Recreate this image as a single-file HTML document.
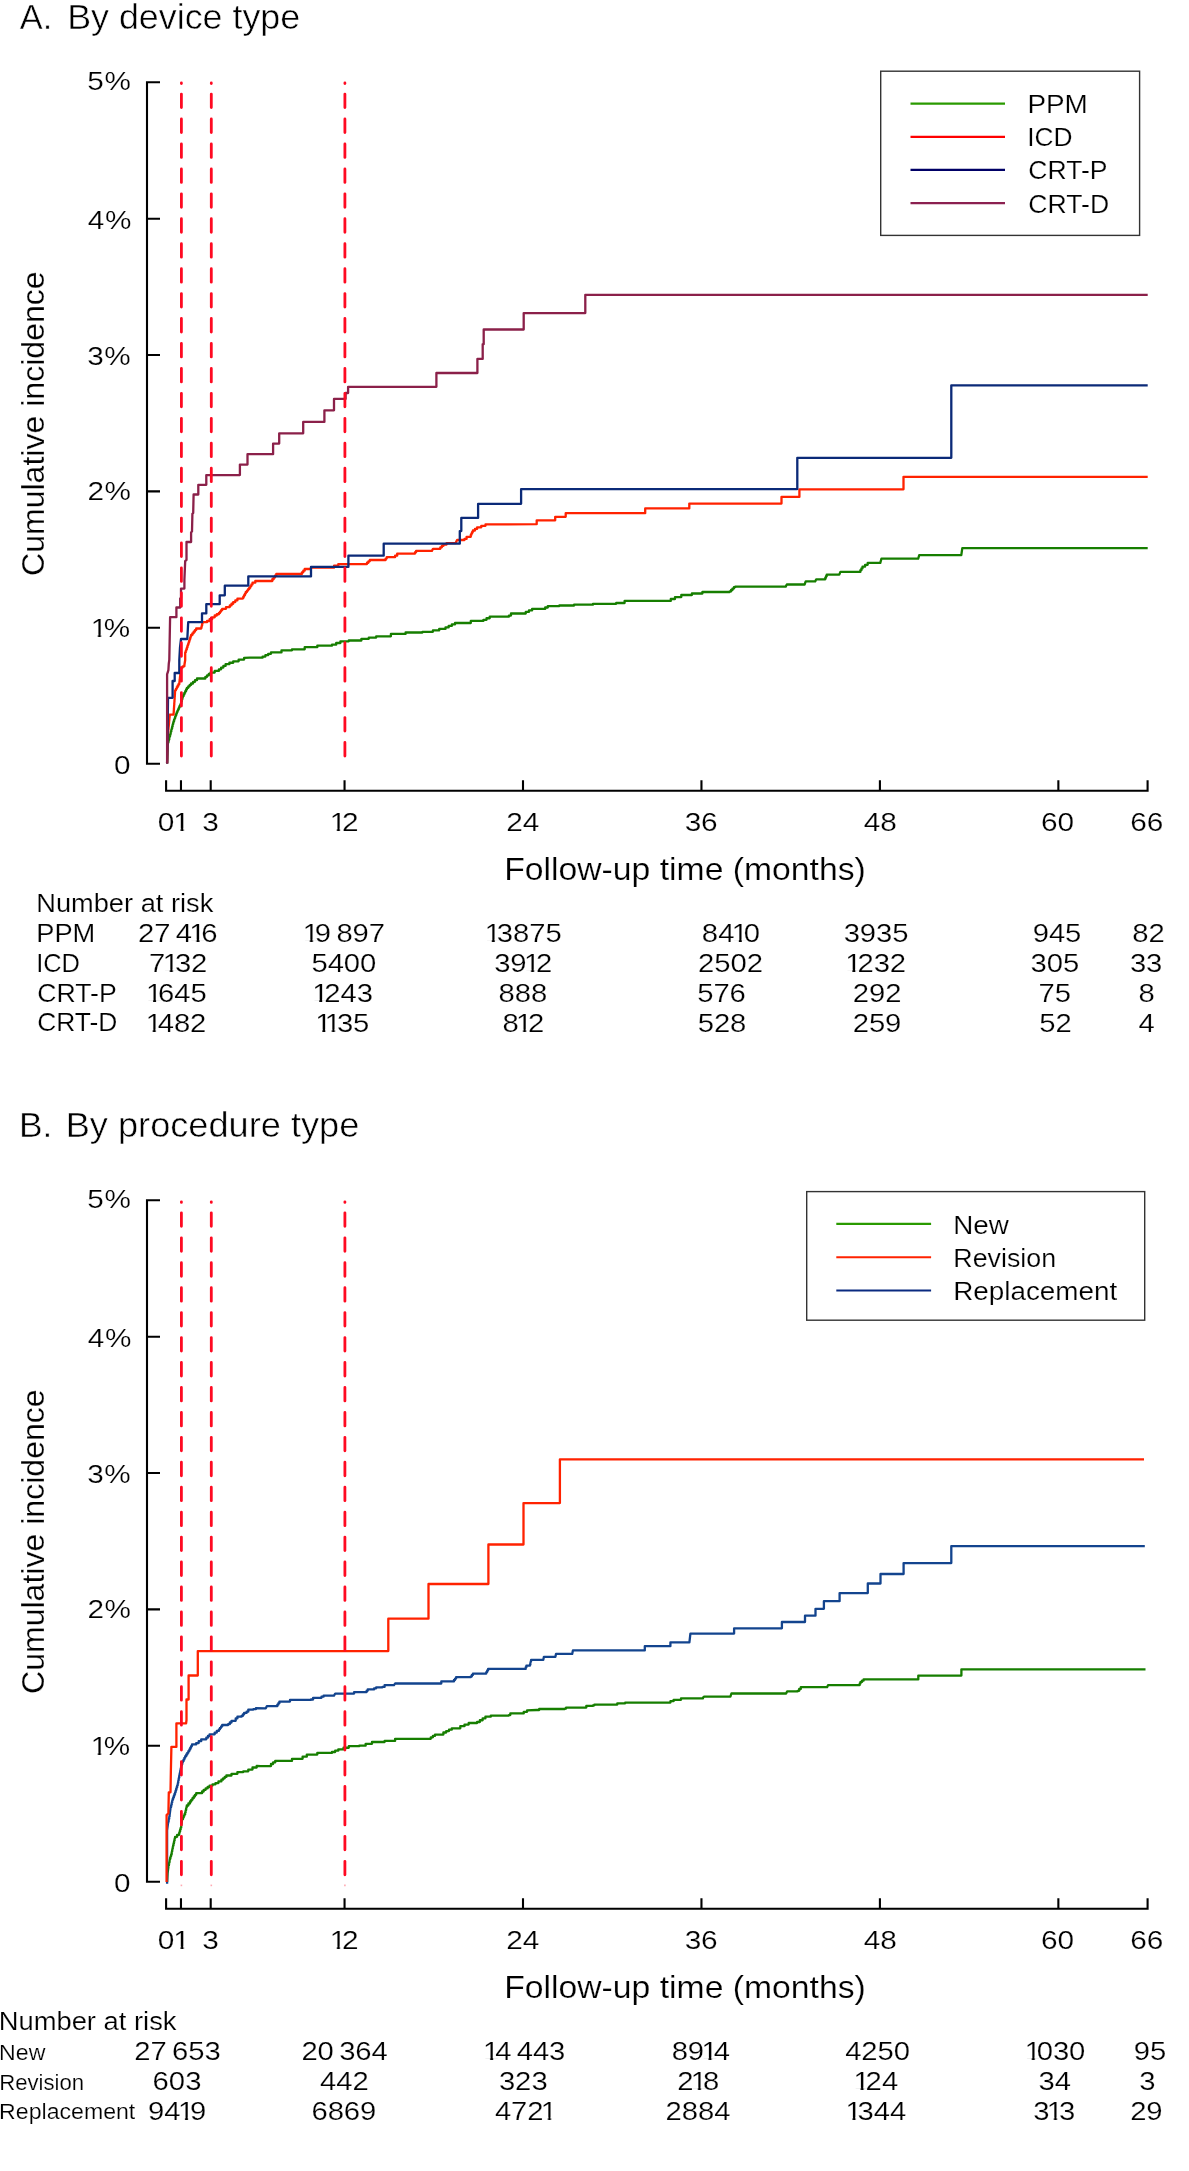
<!DOCTYPE html>
<html><head><meta charset="utf-8"><title>Cumulative incidence</title>
<style>html,body{margin:0;padding:0;background:#fff;}svg{display:block;will-change:transform;}text{white-space:pre;}</style>
</head><body>
<svg width="1189" height="2171" viewBox="0 0 1189 2171">
<rect width="1189" height="2171" fill="#fff"/>
<g font-family="Liberation Sans, Arial, sans-serif" fill="#000" stroke="#fff" stroke-width="0.2">
<text transform="translate(19.81 29) scale(0.9574 1)" font-size="35.9" stroke-width="0.5">A.</text>
<text transform="translate(67.14 29) scale(0.9985 1)" font-size="35.9" stroke-width="0.5">By device type</text>
<text transform="translate(0 773.5) scale(1.1300 1)" x="100.99" font-size="26.3">0</text>
<text transform="translate(0 636.9) scale(1.1300 1)" x="80.29 91.82" font-size="26.3"><tspan fill="url(#p0)">1</tspan>%</text>
<text transform="translate(0 500.2) scale(1.1300 1)" x="77.34 92.57" font-size="26.3">2%</text>
<text transform="translate(0 364.7) scale(1.1300 1)" x="77.14 92.31" font-size="26.3">3%</text>
<text transform="translate(0 228.6) scale(1.1300 1)" x="77.69 92.86" font-size="26.3">4%</text>
<text transform="translate(0 89.9) scale(1.1300 1)" x="77.21 92.44" font-size="26.3">5%</text>
<text transform="translate(44.2 576) rotate(-90) scale(1.0277 1)" font-size="31.2">Cumulative incidence</text>
<text transform="translate(0 830.6) scale(1.1300 1)" x="139.63" font-size="26.4">0</text>
<text transform="translate(0 830.6) scale(1.1300 1)" x="153.41" font-size="26.4"><tspan fill="url(#p1)">1</tspan></text>
<text transform="translate(0 830.6) scale(1.1300 1)" x="178.89" font-size="26.4">3</text>
<text transform="translate(0 830.6) scale(1.1300 1)" x="291.72 302.62" font-size="26.4"><tspan fill="url(#p2)">1</tspan>2</text>
<text transform="translate(0 830.6) scale(1.1300 1)" x="447.91 462.59" font-size="26.4">24</text>
<text transform="translate(0 830.6) scale(1.1300 1)" x="605.91 620.36" font-size="26.4">36</text>
<text transform="translate(0 830.6) scale(1.1300 1)" x="764.38 778.93" font-size="26.4">48</text>
<text transform="translate(0 830.6) scale(1.1300 1)" x="921.19 935.87" font-size="26.4">60</text>
<text transform="translate(0 830.6) scale(1.1300 1)" x="1000.31 1014.93" font-size="26.4">66</text>
<text transform="translate(504.22 879.7) scale(1.0809 1)" font-size="31.2">Follow-up time (months)</text>
<text transform="translate(1027.4 113) scale(1.0800 1)" font-size="25.8">PPM</text>
<text transform="translate(1027.26 146.2) scale(1.0213 1)" font-size="25.8">ICD</text>
<text transform="translate(1028.37 179.4) scale(1.0296 1)" font-size="25.8">CRT-P</text>
<text transform="translate(1028.37 212.6) scale(1.0310 1)" font-size="25.8">CRT-D</text>
<text transform="translate(36.25 911.8) scale(1.0478 1)" font-size="26">Number at risk</text>
<text transform="translate(36.25 941.7) scale(1.0487 1)" font-size="26">PPM</text>
<text transform="translate(36.14 971.7) scale(0.9795 1)" font-size="26">ICD</text>
<text transform="translate(37.17 1001.8) scale(1.0256 1)" font-size="26">CRT-P</text>
<text transform="translate(37.18 1031.4) scale(1.0165 1)" font-size="26">CRT-D</text>
<text transform="translate(0 941.7) scale(1.1300 1)" x="122.14 136.48 144.25 155.57 167.56 178.15" font-size="25.9">27 4<tspan fill="url(#p3)">1</tspan>6</text>
<text transform="translate(0 941.7) scale(1.1300 1)" x="267.97 278.63 286.4 297.69 311.99 326.36" font-size="25.9"><tspan fill="url(#p4)">1</tspan>9 897</text>
<text transform="translate(0 941.7) scale(1.1300 1)" x="428.95 439.7 453.97 468.31 482.65" font-size="25.9"><tspan fill="url(#p5)">1</tspan>3875</text>
<text transform="translate(0 941.7) scale(1.1300 1)" x="621.13 635.53 647.51 658.17" font-size="25.9">84<tspan fill="url(#p6)">1</tspan>0</text>
<text transform="translate(0 941.7) scale(1.1300 1)" x="746.59 760.83 775.27 789.54" font-size="25.9">3935</text>
<text transform="translate(0 941.7) scale(1.1300 1)" x="913.85 928.28 942.55" font-size="25.9">945</text>
<text transform="translate(0 941.7) scale(1.1300 1)" x="1002.07 1016.41" font-size="25.9">82</text>
<text transform="translate(0 971.7) scale(1.1300 1)" x="131.97 144.02 154.78 169.05" font-size="25.9">7<tspan fill="url(#p7)">1</tspan>32</text>
<text transform="translate(0 971.7) scale(1.1300 1)" x="275.67 290.07 304.31 318.65" font-size="25.9">5400</text>
<text transform="translate(0 971.7) scale(1.1300 1)" x="437.39 451.63 463.71 474.4" font-size="25.9">39<tspan fill="url(#p8)">1</tspan>2</text>
<text transform="translate(0 971.7) scale(1.1300 1)" x="617.77 632.1 646.41 660.78" font-size="25.9">2502</text>
<text transform="translate(0 971.7) scale(1.1300 1)" x="748.06 758.75 773.15 787.42" font-size="25.9"><tspan fill="url(#p9)">1</tspan>232</text>
<text transform="translate(0 971.7) scale(1.1300 1)" x="912.04 926.28 940.64" font-size="25.9">305</text>
<text transform="translate(0 971.7) scale(1.1300 1)" x="999.91 1014.25" font-size="25.9">33</text>
<text transform="translate(0 1001.8) scale(1.1300 1)" x="129.21 139.81 154.3 168.58" font-size="25.9"><tspan fill="url(#p10)">1</tspan>645</text>
<text transform="translate(0 1001.8) scale(1.1300 1)" x="276.25 286.94 301.34 315.68" font-size="25.9"><tspan fill="url(#p11)">1</tspan>243</text>
<text transform="translate(0 1001.8) scale(1.1300 1)" x="441.22 455.56 469.89" font-size="25.9">888</text>
<text transform="translate(0 1001.8) scale(1.1300 1)" x="617.05 631.39 645.63" font-size="25.9">576</text>
<text transform="translate(0 1001.8) scale(1.1300 1)" x="754.67 768.98 783.34" font-size="25.9">292</text>
<text transform="translate(0 1001.8) scale(1.1300 1)" x="918.97 933.3" font-size="25.9">75</text>
<text transform="translate(0 1001.8) scale(1.1300 1)" x="1007.64" font-size="25.9">8</text>
<text transform="translate(0 1031.5) scale(1.1300 1)" x="128.9 139.65 153.93 168.26" font-size="25.9"><tspan fill="url(#p12)">1</tspan>482</text>
<text transform="translate(0 1031.5) scale(1.1300 1)" x="278.99 287.4 298.15 312.42" font-size="25.9"><tspan fill="url(#p13)">1</tspan><tspan fill="url(#p13)">1</tspan>35</text>
<text transform="translate(0 1031.5) scale(1.1300 1)" x="444.59 456.64 467.33" font-size="25.9">8<tspan fill="url(#p14)">1</tspan>2</text>
<text transform="translate(0 1031.5) scale(1.1300 1)" x="617.45 631.78 646.12" font-size="25.9">528</text>
<text transform="translate(0 1031.5) scale(1.1300 1)" x="754.62 768.96 783.26" font-size="25.9">259</text>
<text transform="translate(0 1031.5) scale(1.1300 1)" x="919.76 934.09" font-size="25.9">52</text>
<text transform="translate(0 1031.5) scale(1.1300 1)" x="1007.48" font-size="25.9">4</text>
</g>
<path d="M167.1 763.4 L167.6 744.1 L168.01 744.1 L168.01 742.52 L168.43 742.52 L168.43 740.95 L168.84 740.95 L168.84 739.38 L169.25 739.38 L169.25 737.8 L169.66 737.8 L169.66 736.23 L170.07 736.23 L170.07 734.65 L170.49 734.65 L170.49 733.08 L170.9 733.08 L170.9 731.5 L171.33 731.5 L171.33 729.82 L171.77 729.82 L171.77 728.13 L172.2 728.13 L172.2 726.45 L172.63 726.45 L172.63 724.77 L173.07 724.77 L173.07 723.08 L173.5 723.08 L173.5 721.4 L174.05 721.4 L174.05 719.85 L174.6 719.85 L174.6 718.3 L175.15 718.3 L175.15 716.75 L175.7 716.75 L175.7 715.2 L176.25 715.2 L176.25 713.65 L176.8 713.65 L176.8 712.1 L177.5 712.1 L177.5 710.57 L178.2 710.57 L178.2 709.03 L178.9 709.03 L178.9 707.5 L179.6 707.5 L179.6 705.97 L180.3 705.97 L180.3 704.43 L181 704.43 L181 702.9 L181.43 702.9 L181.43 701.23 L181.85 701.23 L181.85 699.55 L182.27 699.55 L182.27 697.88 L182.7 697.88 L182.7 696.2 L183.54 696.2 L183.54 694.52 L184.38 694.52 L184.38 692.84 L185.22 692.84 L185.22 691.16 L186.06 691.16 L186.06 689.48 L186.9 689.48 L186.9 687.8 L188.3 687.8 L188.3 686.37 L189.7 686.37 L189.7 684.93 L191.1 684.93 L191.1 683.5 L193.07 683.5 L193.07 681.83 L195.03 681.83 L195.03 680.17 L197 680.17 L197 678.5 L205.4 678.5 L205.4 676.8 L207.1 676.8 L207.1 675.4 L208.8 675.4 L208.8 674 L210.5 674 L210.5 672.6 L214.7 672.6 L214.7 670.95 L218.9 670.95 L218.9 669.3 L221.13 669.3 L221.13 667.6 L223.37 667.6 L223.37 665.9 L225.6 665.9 L225.6 664.2 L229.4 664.2 L229.4 662.75 L233.2 662.75 L233.2 661.3 L238.65 661.3 L238.65 659.6 L244.1 659.6 L244.1 657.9 L250 657.7 L262.6 657.7 L262.6 656.6 L265.4 656.6 L265.4 655.2 L268.2 655.2 L268.2 653.8 L271 653.8 L271 652.4 L281.5 652.4 L281.5 650.3 L292 650.3 L292 649.3 L304.7 649.3 L304.7 647.2 L317.3 647.2 L317.3 645.7 L332 645.7 L332 644.7 L336.2 644.7 L336.2 643 L340.4 643 L340.4 641.3 L348.8 641.3 L348.8 640.5 L361.4 640.5 L361.4 638.8 L368.8 638.8 L368.8 637.55 L376.2 637.55 L376.2 636.3 L390.9 636.3 L390.9 633.9 L405.6 633.9 L405.6 632.5 L422.4 632.5 L422.4 631.8 L432.9 631.8 L432.9 630.4 L439.2 630.4 L439.2 628.9 L445.5 628.9 L445.5 627.4 L448.67 627.4 L448.67 625.93 L451.83 625.93 L451.83 624.47 L455 624.47 L455 623 L470.8 623 L470.8 620.9 L483.4 620.9 L483.4 619.8 L486.55 619.8 L486.55 618.25 L489.7 618.25 L489.7 616.7 L508.9 616.7 L508.9 615.6 L511 615.6 L511 613.5 L522.6 613.5 L525.77 613.5 L525.77 611.97 L528.93 611.97 L528.93 610.43 L532.1 610.43 L532.1 608.9 L542.6 608.9 L545.2 608.9 L545.2 607.5 L547.8 607.5 L547.8 606.1 L559.4 606.1 L559.4 605.5 L574.1 605.5 L574.1 604.7 L593 604.7 L593 603.8 L616.2 603.8 L616.2 603 L624.6 603 L624.6 600.9 L666.6 600.9 L670.8 600.9 L670.8 599 L675 599 L675 597.1 L681.3 597.1 L681.3 595 L691.9 595 L691.9 593.5 L702.4 593.5 L702.4 592 L729.7 592 L729.7 591.4 L731.1 591.4 L731.1 590 L732.5 590 L732.5 588.6 L733.9 588.6 L733.9 587.2 L735.3 587.2 L735.3 586.6 L785.7 586.6 L786.8 584.5 L804.6 584.5 L805.7 581.4 L815.2 581.4 L816.2 579.3 L824.6 579.3 L825.3 579.3 L825.3 577.77 L826 577.77 L826 576.23 L826.7 576.23 L826.7 574.7 L839.3 574.7 L840.4 571.9 L859.3 571.9 L860.37 571.9 L860.37 570.17 L861.43 570.17 L861.43 568.43 L862.5 568.43 L862.5 566.7 L865.1 566.7 L865.1 564.8 L867.7 564.8 L867.7 562.9 L880.3 562.9 L881.4 558.7 L918.2 558.7 L919.2 555.1 L961.3 555.1 L962.3 548.2 L1147.7 548.2" stroke="#167e00" stroke-width="2.3" fill="none" stroke-linejoin="round"/>
<path d="M167.1 763.4 L168 733.2 L168.14 733.2 L168.14 731.66 L168.28 731.66 L168.28 730.12 L168.43 730.12 L168.43 728.58 L168.57 728.58 L168.57 727.03 L168.71 727.03 L168.71 725.49 L168.85 725.49 L168.85 723.95 L168.99 723.95 L168.99 722.41 L169.13 722.41 L169.13 720.87 L169.27 720.87 L169.27 719.33 L169.42 719.33 L169.42 717.78 L169.56 717.78 L169.56 716.24 L169.7 716.24 L169.7 714.7 L173.5 714.7 L173.61 714.7 L173.61 713.07 L173.71 713.07 L173.71 711.45 L173.82 711.45 L173.82 709.82 L173.93 709.82 L173.93 708.19 L174.03 708.19 L174.03 706.57 L174.14 706.57 L174.14 704.94 L174.25 704.94 L174.25 703.31 L174.35 703.31 L174.35 701.69 L174.46 701.69 L174.46 700.06 L174.57 700.06 L174.57 698.43 L174.67 698.43 L174.67 696.81 L174.78 696.81 L174.78 695.18 L174.89 695.18 L174.89 693.55 L174.99 693.55 L174.99 691.93 L175.1 691.93 L175.1 690.3 L175.94 690.3 L175.94 688.78 L176.78 688.78 L176.78 687.26 L177.62 687.26 L177.62 685.74 L178.46 685.74 L178.46 684.22 L179.3 684.22 L179.3 682.7 L179.49 682.7 L179.49 681.02 L179.68 681.02 L179.68 679.34 L179.87 679.34 L179.87 677.67 L180.06 677.67 L180.06 675.99 L180.24 675.99 L180.24 674.31 L180.43 674.31 L180.43 672.63 L180.62 672.63 L180.62 670.96 L180.81 670.96 L180.81 669.28 L181 669.28 L181 667.6 L182.7 667.6 L182.7 666.3 L184.4 666.3 L184.4 665 L185.2 660 L185.2 652.5 L185.77 652.5 L185.77 650.82 L186.33 650.82 L186.33 649.13 L186.9 649.13 L186.9 647.45 L187.47 647.45 L187.47 645.77 L188.03 645.77 L188.03 644.08 L188.6 644.08 L188.6 642.4 L189.1 642.4 L189.1 640.9 L189.6 640.9 L189.6 639.4 L190.1 639.4 L190.1 637.9 L190.6 637.9 L190.6 636.4 L191.1 636.4 L191.1 634.9 L192.38 634.9 L192.38 633.3 L193.65 633.3 L193.65 631.7 L194.92 631.7 L194.92 630.1 L196.2 630.1 L196.2 628.5 L201.2 628.5 L201.2 628.1 L201.52 628.1 L201.52 626.62 L201.85 626.62 L201.85 625.15 L202.18 625.15 L202.18 623.68 L202.5 623.68 L202.5 622.2 L207.1 622.2 L207.1 621 L209.63 621 L209.63 619.17 L212.17 619.17 L212.17 617.33 L214.7 617.33 L214.7 615.5 L216.8 615.5 L216.8 614.25 L218.9 614.25 L218.9 613 L220 613 L220 611.6 L221.1 611.6 L221.1 610.2 L222.2 610.2 L222.2 608.8 L226 608.8 L226 607.1 L229.8 607.1 L229.8 605.4 L231.5 605.4 L231.5 603.75 L233.2 603.75 L233.2 602.1 L235.3 602.1 L235.3 600.4 L237.4 600.4 L237.4 598.7 L242.4 598.7 L242.4 598.3 L243.25 598.3 L243.25 596.72 L244.1 596.72 L244.1 595.15 L244.95 595.15 L244.95 593.58 L245.8 593.58 L245.8 592 L246.93 592 L246.93 590.6 L248.07 590.6 L248.07 589.2 L249.2 589.2 L249.2 587.8 L250.3 587.8 L250.3 586.1 L251.4 586.1 L251.4 584.4 L252.5 584.4 L252.5 582.7 L255.3 582.7 L255.3 581 L271 581 L272.32 581 L272.32 579.25 L273.65 579.25 L273.65 577.5 L274.98 577.5 L274.98 575.75 L276.3 575.75 L276.3 574 L300.5 574 L301.9 574 L301.9 572.33 L303.3 572.33 L303.3 570.67 L304.7 570.67 L304.7 569 L311 569 L311 567.7 L334.1 567.7 L334.1 565.6 L338.3 565.6 L338.3 564.1 L365.6 564.1 L367 564.1 L367 562.73 L368.4 562.73 L368.4 561.37 L369.8 561.37 L369.8 560 L384.6 560 L385.65 560 L385.65 558.6 L386.7 558.6 L386.7 557.2 L395.1 557.2 L395.1 555.7 L397.2 555.7 L397.2 553.6 L414 553.6 L415.05 553.6 L415.05 552.25 L416.1 552.25 L416.1 550.9 L431.9 550.9 L433 548.8 L440.3 548.8 L440.3 547.3 L441.85 547.3 L441.85 545.95 L443.4 545.95 L443.4 544.6 L446.6 544.6 L446.6 543.1 L456.1 543.1 L456.1 542.1 L457.1 540 L464.5 540 L464.5 538.9 L466.6 538.9 L466.6 536.8 L470.8 536.8 L470.8 534.7 L471.5 534.7 L471.5 533.3 L472.2 533.3 L472.2 531.9 L472.9 531.9 L472.9 530.5 L475 530.5 L475 528.9 L477.1 528.9 L477.1 527.3 L481.3 527.3 L481.3 525.85 L485.5 525.85 L485.5 524.4 L536.7 524.2 L536.7 520.3 L555.2 520.3 L555.2 516.8 L565.7 516.8 L565.7 513.2 L645.2 513.2 L645.2 508.4 L689.3 508.4 L689.3 503.6 L781.5 503.6 L781.5 496.9 L799.4 496.9 L799.4 489.3 L903.5 489.3 L903.5 476.8 L1147.7 476.8" stroke="#ff2200" stroke-width="2.3" fill="none" stroke-linejoin="round"/>
<path d="M167.1 763.4 L167.6 733.2 L168 697.8 L172.6 697.8 L172.6 681 L174.7 681 L174.7 673 L179.3 673 L179.3 660 L180 647.5 L181 639 L187.3 639 L187.8 629.8 L188.2 622.2 L202 622.2 L202 613.4 L206.3 613.4 L206.3 604.2 L219.7 604.2 L219.7 595.3 L224.8 595.3 L224.8 585.7 L248.3 585.7 L248.3 576.4 L311 576.4 L311 566.9 L348.4 566.9 L348.4 555.7 L383.7 555.7 L383.7 543.7 L459.8 543.7 L459.8 531.1 L461.3 531.1 L461.3 517.9 L478.1 517.9 L478.1 503.8 L521.1 503.8 L521.1 489.1 L797.3 489.1 L797.3 457.8 L951.3 457.8 L951.3 385.3 L1147.7 385.3" stroke="#0b2a78" stroke-width="2.3" fill="none" stroke-linejoin="round"/>
<path d="M167.1 763.4 L167.1 674.3 L168.4 670.1 L168.8 663.4 L169.3 660 L170.1 617.2 L176.4 617.2 L176.4 607.5 L180.2 607.5 L180.2 598.3 L181 598.3 L181 588.6 L184.4 588.6 L184.4 580 L185.2 560.9 L186.5 560.1 L186.5 542 L191.1 542 L191.1 532.3 L192 531.5 L192.4 513.8 L193.2 513 L193.6 494.5 L198.3 494.5 L198.3 484.8 L206.3 484.8 L206.3 475.1 L239.9 475.1 L239.9 464.6 L247.5 464.6 L247.5 454.2 L273.1 454.2 L273.1 443.6 L279.2 443.6 L279.2 433.3 L303.2 433.3 L303.2 421.9 L324.4 421.9 L324.4 410.3 L334 410.3 L334 398.9 L345.6 398.9 L345.6 393 L348.1 393 L348.1 386.8 L436.4 386.8 L436.4 373 L477.4 373 L477.4 358.9 L482.7 358.9 L482.7 344.2 L483.7 344.2 L483.7 329.5 L523.7 329.5 L523.7 313.1 L585.3 313.1 L585.3 294.8 L1147.7 294.8" stroke="#8b2049" stroke-width="2.3" fill="none" stroke-linejoin="round"/>
<path d="M181.4 756 L181.4 742.5 M181.4 731.06 L181.4 717.56 M181.4 706.12 L181.4 692.62 M181.4 681.18 L181.4 667.68 M181.4 656.24 L181.4 642.74 M181.4 631.3 L181.4 617.8 M181.4 606.36 L181.4 592.86 M181.4 581.42 L181.4 567.92 M181.4 556.48 L181.4 542.98 M181.4 531.54 L181.4 518.04 M181.4 506.6 L181.4 493.1 M181.4 481.66 L181.4 468.16 M181.4 456.72 L181.4 443.22 M181.4 431.78 L181.4 418.28 M181.4 406.84 L181.4 393.34 M181.4 381.9 L181.4 368.4 M181.4 356.96 L181.4 343.46 M181.4 332.02 L181.4 318.52 M181.4 307.08 L181.4 293.58 M181.4 282.14 L181.4 268.64 M181.4 257.2 L181.4 243.7 M181.4 232.26 L181.4 218.76 M181.4 207.32 L181.4 193.82 M181.4 182.38 L181.4 168.88 M181.4 157.44 L181.4 143.94 M181.4 132.5 L181.4 119 M181.4 107.56 L181.4 94.06 M181.4 83.6 L181.4 83" stroke="#ff0a22" stroke-width="2.8" stroke-linecap="round" fill="none"/>
<path d="M211.3 756 L211.3 742.5 M211.3 731.06 L211.3 717.56 M211.3 706.12 L211.3 692.62 M211.3 681.18 L211.3 667.68 M211.3 656.24 L211.3 642.74 M211.3 631.3 L211.3 617.8 M211.3 606.36 L211.3 592.86 M211.3 581.42 L211.3 567.92 M211.3 556.48 L211.3 542.98 M211.3 531.54 L211.3 518.04 M211.3 506.6 L211.3 493.1 M211.3 481.66 L211.3 468.16 M211.3 456.72 L211.3 443.22 M211.3 431.78 L211.3 418.28 M211.3 406.84 L211.3 393.34 M211.3 381.9 L211.3 368.4 M211.3 356.96 L211.3 343.46 M211.3 332.02 L211.3 318.52 M211.3 307.08 L211.3 293.58 M211.3 282.14 L211.3 268.64 M211.3 257.2 L211.3 243.7 M211.3 232.26 L211.3 218.76 M211.3 207.32 L211.3 193.82 M211.3 182.38 L211.3 168.88 M211.3 157.44 L211.3 143.94 M211.3 132.5 L211.3 119 M211.3 107.56 L211.3 94.06 M211.3 83.6 L211.3 83" stroke="#ff0a22" stroke-width="2.8" stroke-linecap="round" fill="none"/>
<path d="M344.9 756 L344.9 742.5 M344.9 731.06 L344.9 717.56 M344.9 706.12 L344.9 692.62 M344.9 681.18 L344.9 667.68 M344.9 656.24 L344.9 642.74 M344.9 631.3 L344.9 617.8 M344.9 606.36 L344.9 592.86 M344.9 581.42 L344.9 567.92 M344.9 556.48 L344.9 542.98 M344.9 531.54 L344.9 518.04 M344.9 506.6 L344.9 493.1 M344.9 481.66 L344.9 468.16 M344.9 456.72 L344.9 443.22 M344.9 431.78 L344.9 418.28 M344.9 406.84 L344.9 393.34 M344.9 381.9 L344.9 368.4 M344.9 356.96 L344.9 343.46 M344.9 332.02 L344.9 318.52 M344.9 307.08 L344.9 293.58 M344.9 282.14 L344.9 268.64 M344.9 257.2 L344.9 243.7 M344.9 232.26 L344.9 218.76 M344.9 207.32 L344.9 193.82 M344.9 182.38 L344.9 168.88 M344.9 157.44 L344.9 143.94 M344.9 132.5 L344.9 119 M344.9 107.56 L344.9 94.06 M344.9 83.6 L344.9 83" stroke="#ff0a22" stroke-width="2.8" stroke-linecap="round" fill="none"/>
<path d="M160 82.3 L147 82.3 L147 763.8 L160 763.8 M147 627.8 L160 627.8 M147 491.4 L160 491.4 M147 355 L160 355 M147 218.7 L160 218.7" stroke="#000" stroke-width="2.1" fill="none" stroke-linejoin="miter"/>
<path d="M166.1 780.2 L166.1 790.8 L1147.59 790.8 L1147.59 780.2 M180.97 790.8 L180.97 780.2 M210.71 790.8 L210.71 780.2 M344.55 790.8 L344.55 780.2 M523 790.8 L523 780.2 M701.46 790.8 L701.46 780.2 M879.91 790.8 L879.91 780.2 M1058.36 790.8 L1058.36 780.2" stroke="#000" stroke-width="2.1" fill="none"/>
<rect x="880.7" y="71.2" width="258.9" height="164.2" fill="none" stroke="#333" stroke-width="1.4"/>
<path d="M910.5 103.6 L1005 103.6" stroke="#2a9a00" stroke-width="2.1"/>
<path d="M910.5 136.9 L1005 136.9" stroke="#ff0000" stroke-width="2.1"/>
<path d="M910.5 169.9 L1005 169.9" stroke="#000066" stroke-width="2.1"/>
<path d="M910.5 203.1 L1005 203.1" stroke="#8b2050" stroke-width="2.1"/>
<g font-family="Liberation Sans, Arial, sans-serif" fill="#000" stroke="#fff" stroke-width="0.2">
<text transform="translate(18.98 1136.8) scale(0.9844 1)" font-size="35.9" stroke-width="0.5">B.</text>
<text transform="translate(65.71 1136.8) scale(1.0082 1)" font-size="35.9" stroke-width="0.5">By procedure type</text>
<text transform="translate(0 1891.5) scale(1.1300 1)" x="100.99" font-size="26.3">0</text>
<text transform="translate(0 1754.9) scale(1.1300 1)" x="80.29 91.82" font-size="26.3"><tspan fill="url(#p15)">1</tspan>%</text>
<text transform="translate(0 1618.2) scale(1.1300 1)" x="77.34 92.57" font-size="26.3">2%</text>
<text transform="translate(0 1482.7) scale(1.1300 1)" x="77.14 92.31" font-size="26.3">3%</text>
<text transform="translate(0 1346.6) scale(1.1300 1)" x="77.69 92.86" font-size="26.3">4%</text>
<text transform="translate(0 1207.9) scale(1.1300 1)" x="77.21 92.44" font-size="26.3">5%</text>
<text transform="translate(44.2 1694) rotate(-90) scale(1.0277 1)" font-size="31.2">Cumulative incidence</text>
<text transform="translate(0 1948.6) scale(1.1300 1)" x="139.63" font-size="26.4">0</text>
<text transform="translate(0 1948.6) scale(1.1300 1)" x="153.41" font-size="26.4"><tspan fill="url(#p16)">1</tspan></text>
<text transform="translate(0 1948.6) scale(1.1300 1)" x="178.89" font-size="26.4">3</text>
<text transform="translate(0 1948.6) scale(1.1300 1)" x="291.72 302.62" font-size="26.4"><tspan fill="url(#p17)">1</tspan>2</text>
<text transform="translate(0 1948.6) scale(1.1300 1)" x="447.91 462.59" font-size="26.4">24</text>
<text transform="translate(0 1948.6) scale(1.1300 1)" x="605.91 620.36" font-size="26.4">36</text>
<text transform="translate(0 1948.6) scale(1.1300 1)" x="764.38 778.93" font-size="26.4">48</text>
<text transform="translate(0 1948.6) scale(1.1300 1)" x="921.19 935.87" font-size="26.4">60</text>
<text transform="translate(0 1948.6) scale(1.1300 1)" x="1000.31 1014.93" font-size="26.4">66</text>
<text transform="translate(504.22 1997.7) scale(1.0809 1)" font-size="31.2">Follow-up time (months)</text>
<text transform="translate(953.21 1233.9) scale(1.0575 1)" font-size="26.3">New</text>
<text transform="translate(953.29 1267.1) scale(1.0191 1)" font-size="26.3">Revision</text>
<text transform="translate(953.2 1299.8) scale(1.0589 1)" font-size="26.3">Replacement</text>
<text transform="translate(-1.26 2029.9) scale(1.0520 1)" font-size="26">Number at risk</text>
<text transform="translate(-0.91 2060) scale(1.0417 1)" font-size="22.2">New</text>
<text transform="translate(-0.83 2089.6) scale(0.9986 1)" font-size="22.2">Revision</text>
<text transform="translate(-0.91 2119.3) scale(1.0418 1)" font-size="22.2">Replacement</text>
<text transform="translate(0 2059.8) scale(1.1300 1)" x="118.88 133.21 140.98 152.14 166.58 180.98" font-size="25.9">27 653</text>
<text transform="translate(0 2059.8) scale(1.1300 1)" x="266.74 281.04 288.81 300.16 314.34 328.84" font-size="25.9">20 364</text>
<text transform="translate(0 2059.8) scale(1.1300 1)" x="427.49 438.24 446.01 457.27 471.6 485.94" font-size="25.9"><tspan fill="url(#p18)">1</tspan>4 443</text>
<text transform="translate(0 2059.8) scale(1.1300 1)" x="594.4 608.7 620.79 631.54" font-size="25.9">89<tspan fill="url(#p19)">1</tspan>4</text>
<text transform="translate(0 2059.8) scale(1.1300 1)" x="747.92 762.19 776.53 790.83" font-size="25.9">4250</text>
<text transform="translate(0 2059.8) scale(1.1300 1)" x="906.81 917.46 931.9 946.14" font-size="25.9"><tspan fill="url(#p20)">1</tspan>030</text>
<text transform="translate(0 2059.8) scale(1.1300 1)" x="1003.23 1017.6" font-size="25.9">95</text>
<text transform="translate(0 2089.8) scale(1.1300 1)" x="135.02 149.43 163.86" font-size="25.9">603</text>
<text transform="translate(0 2089.8) scale(1.1300 1)" x="283.25 297.58 311.85" font-size="25.9">442</text>
<text transform="translate(0 2089.8) scale(1.1300 1)" x="441.59 455.87 470.27" font-size="25.9">323</text>
<text transform="translate(0 2089.8) scale(1.1300 1)" x="599.31 611.36 622.05" font-size="25.9">2<tspan fill="url(#p21)">1</tspan>8</text>
<text transform="translate(0 2089.8) scale(1.1300 1)" x="755.34 766.04 780.44" font-size="25.9"><tspan fill="url(#p22)">1</tspan>24</text>
<text transform="translate(0 2089.8) scale(1.1300 1)" x="919.01 933.35" font-size="25.9">34</text>
<text transform="translate(0 2089.8) scale(1.1300 1)" x="1008.14" font-size="25.9">3</text>
<text transform="translate(0 2119.5) scale(1.1300 1)" x="131.01 145.44 157.43 168.09" font-size="25.9">94<tspan fill="url(#p23)">1</tspan>9</text>
<text transform="translate(0 2119.5) scale(1.1300 1)" x="275.59 290.03 304.26 318.67" font-size="25.9">6869</text>
<text transform="translate(0 2119.5) scale(1.1300 1)" x="437.97 452.24 466.58 478.63" font-size="25.9">472<tspan fill="url(#p24)">1</tspan></text>
<text transform="translate(0 2119.5) scale(1.1300 1)" x="589.04 603.37 617.71 632.11" font-size="25.9">2884</text>
<text transform="translate(0 2119.5) scale(1.1300 1)" x="748.18 758.93 773.27 787.61" font-size="25.9"><tspan fill="url(#p25)">1</tspan>344</text>
<text transform="translate(0 2119.5) scale(1.1300 1)" x="914.43 926.41 937.17" font-size="25.9">3<tspan fill="url(#p26)">1</tspan>3</text>
<text transform="translate(0 2119.5) scale(1.1300 1)" x="1000.15 1014.46" font-size="25.9">29</text>
</g>
<path d="M167.1 1882 L167.6 1873.2 L168.6 1865.6 L168.9 1865.6 L168.9 1864.08 L169.2 1864.08 L169.2 1862.56 L169.5 1862.56 L169.5 1861.04 L169.8 1861.04 L169.8 1859.52 L170.1 1859.52 L170.1 1858 L170.6 1858 L170.6 1856.33 L171.1 1856.33 L171.1 1854.67 L171.6 1854.67 L171.6 1853 L171.9 1853 L171.9 1851.48 L172.2 1851.48 L172.2 1849.96 L172.5 1849.96 L172.5 1848.44 L172.8 1848.44 L172.8 1846.92 L173.1 1846.92 L173.1 1845.4 L173.5 1845.4 L173.5 1843.68 L173.9 1843.68 L173.9 1841.96 L174.3 1841.96 L174.3 1840.24 L174.7 1840.24 L174.7 1838.52 L175.1 1838.52 L175.1 1836.8 L177.15 1836.8 L177.15 1834.8 L179.2 1834.8 L179.2 1832.8 L179.7 1832.8 L179.7 1831.15 L180.2 1831.15 L180.2 1829.5 L180.7 1829.5 L180.7 1827.85 L181.2 1827.85 L181.2 1826.2 L182.2 1819.2 L182.95 1819.2 L182.95 1817.53 L183.7 1817.53 L183.7 1815.85 L184.45 1815.85 L184.45 1814.17 L185.2 1814.17 L185.2 1812.5 L185.6 1812.5 L185.6 1810.75 L186 1810.75 L186 1809 L186.4 1809 L186.4 1807.25 L186.8 1807.25 L186.8 1805.5 L188.4 1805.5 L188.4 1803.5 L190 1803.5 L190 1801.5 L191.24 1801.5 L191.24 1799.84 L192.48 1799.84 L192.48 1798.18 L193.72 1798.18 L193.72 1796.52 L194.96 1796.52 L194.96 1794.86 L196.2 1794.86 L196.2 1793.2 L200.4 1793.2 L202.05 1793.2 L202.05 1791.5 L203.7 1791.5 L203.7 1789.8 L205.67 1789.8 L205.67 1788.4 L207.63 1788.4 L207.63 1787 L209.6 1787 L209.6 1785.6 L212.55 1785.6 L212.55 1784.35 L215.5 1784.35 L215.5 1783.1 L218.45 1783.1 L218.45 1781.4 L221.4 1781.4 L221.4 1779.7 L223.07 1779.7 L223.07 1778.3 L224.73 1778.3 L224.73 1776.9 L226.4 1776.9 L226.4 1775.5 L231.5 1775.5 L231.5 1773.8 L237.4 1773.8 L237.4 1772.1 L243.3 1772.1 L243.3 1771.3 L248.3 1771.3 L248.3 1769.6 L252.5 1769.6 L252.5 1767.5 L256.7 1767.5 L256.7 1765.8 L260.5 1766.1 L271 1766.1 L271 1764 L273.1 1764 L273.1 1762.45 L275.2 1762.45 L275.2 1760.9 L292 1760.9 L292 1758.8 L302.6 1758.8 L302.6 1756.7 L306.8 1756.7 L306.8 1754.6 L317.3 1754.6 L317.3 1752.9 L332 1752.9 L332 1752 L335.15 1752 L335.15 1750.65 L338.3 1750.65 L338.3 1749.3 L343.55 1749.3 L343.55 1747.75 L348.8 1747.75 L348.8 1746.2 L359.3 1746.2 L359.3 1745.7 L365.65 1745.7 L365.65 1743.85 L372 1743.85 L372 1742 L384.6 1742 L384.6 1740.9 L395.1 1740.9 L395.1 1738.8 L411.9 1738.8 L430.8 1738.8 L430.8 1737.3 L432.9 1737.3 L432.9 1735.95 L435 1735.95 L435 1734.6 L443.4 1734.6 L443.4 1732.5 L446.2 1732.5 L446.2 1731.1 L449 1731.1 L449 1729.7 L451.8 1729.7 L451.8 1728.3 L460.3 1728.3 L460.3 1726.2 L464.5 1726.2 L464.5 1724.6 L468.7 1724.6 L468.7 1723 L477.1 1723 L477.1 1722 L479.87 1722 L479.87 1720.23 L482.63 1720.23 L482.63 1718.47 L485.4 1718.47 L485.4 1716.7 L490.8 1716.7 L490.8 1715.6 L508.9 1715.6 L508.9 1715.1 L510.3 1715.1 L510.3 1713.4 L520.4 1713.4 L523.75 1713.4 L523.75 1711.85 L527.1 1711.85 L527.1 1710.3 L536.5 1710 L539.2 1710 L539.2 1709 L564.8 1709 L564.8 1708.6 L566.1 1708.6 L566.1 1707.6 L583.6 1707.6 L586.3 1707.6 L586.3 1705.9 L593 1705.9 L593 1705.3 L594.4 1705.3 L594.4 1704.6 L613.2 1704.6 L617.3 1704.6 L617.3 1703.3 L625.2 1703.3 L625.2 1702.6 L667.3 1702.6 L670.45 1702.6 L670.45 1701.2 L673.6 1701.2 L673.6 1699.8 L681 1699.8 L681 1698.4 L703 1698.4 L703 1697.7 L704.1 1696.7 L730.4 1696.7 L731.4 1693.5 L786.1 1693.5 L787.1 1691.4 L797.6 1691.4 L797.6 1690.8 L799.2 1690.8 L799.2 1689 L800.8 1689 L800.8 1687.2 L827.1 1687.2 L828.1 1685.1 L859 1685.1 L859.75 1685.1 L859.75 1683.5 L860.5 1683.5 L860.5 1681.9 L862.05 1681.9 L862.05 1680.65 L863.6 1680.65 L863.6 1679.4 L918.3 1679.4 L918.3 1675.6 L961.4 1675.6 L961.4 1669.3 L1145.5 1669.3" stroke="#167e00" stroke-width="2.3" fill="none" stroke-linejoin="round"/>
<path d="M167.1 1883.8 L167.1 1830.3 L168.1 1822.7 L168.4 1822.7 L168.4 1821.18 L168.7 1821.18 L168.7 1819.66 L169 1819.66 L169 1818.14 L169.3 1818.14 L169.3 1816.62 L169.6 1816.62 L169.6 1815.1 L170.6 1807.6 L171 1807.6 L171 1805.9 L171.4 1805.9 L171.4 1804.2 L171.8 1804.2 L171.8 1802.5 L172.2 1802.5 L172.2 1800.8 L172.6 1800.8 L172.6 1799.1 L173.22 1799.1 L173.22 1797.4 L173.85 1797.4 L173.85 1795.7 L174.47 1795.7 L174.47 1794 L175.1 1794 L175.1 1792.3 L175.62 1792.3 L175.62 1790.62 L176.14 1790.62 L176.14 1788.94 L176.66 1788.94 L176.66 1787.26 L177.18 1787.26 L177.18 1785.58 L177.7 1785.58 L177.7 1783.9 L178.02 1783.9 L178.02 1782.22 L178.34 1782.22 L178.34 1780.54 L178.66 1780.54 L178.66 1778.86 L178.98 1778.86 L178.98 1777.18 L179.3 1777.18 L179.3 1775.5 L179.64 1775.5 L179.64 1773.82 L179.98 1773.82 L179.98 1772.14 L180.32 1772.14 L180.32 1770.46 L180.66 1770.46 L180.66 1768.78 L181 1768.78 L181 1767.1 L181.43 1767.1 L181.43 1765.62 L181.85 1765.62 L181.85 1764.15 L182.27 1764.15 L182.27 1762.67 L182.7 1762.67 L182.7 1761.2 L183.53 1761.2 L183.53 1759.53 L184.37 1759.53 L184.37 1757.87 L185.2 1757.87 L185.2 1756.2 L186.25 1756.2 L186.25 1754.5 L187.3 1754.5 L187.3 1752.8 L188.35 1752.8 L188.35 1751.1 L189.4 1751.1 L189.4 1749.4 L190.27 1749.4 L190.27 1747.73 L191.13 1747.73 L191.13 1746.07 L192 1746.07 L192 1744.4 L196.2 1744.4 L196.2 1743.1 L198.7 1743.1 L198.7 1741.2 L201.2 1741.2 L201.2 1739.3 L206.3 1739.3 L206.3 1737.7 L207.95 1737.7 L207.95 1736 L209.6 1736 L209.6 1734.3 L214.7 1734.3 L214.7 1732.6 L216.8 1732.6 L216.8 1730.95 L218.9 1730.95 L218.9 1729.3 L220 1729.3 L220 1727.87 L221.1 1727.87 L221.1 1726.43 L222.2 1726.43 L222.2 1725 L228.1 1725 L228.1 1724.2 L229.8 1724.2 L229.8 1722.5 L231.5 1722.5 L231.5 1720.8 L235.7 1720.8 L235.7 1718.4 L237.4 1718.4 L237.4 1716.7 L241.6 1716.7 L241.6 1715.9 L242.85 1715.9 L242.85 1714.4 L244.1 1714.4 L244.1 1712.9 L246.6 1712.9 L246.6 1711.7 L248.3 1711.7 L248.3 1709.6 L253.4 1709.6 L253.4 1709.2 L255.9 1709.2 L255.9 1708.2 L265.8 1708.3 L266.8 1706.2 L276.3 1706.2 L277.33 1706.2 L277.33 1704.67 L278.37 1704.67 L278.37 1703.13 L279.4 1703.13 L279.4 1701.6 L290 1701.6 L290 1699.9 L311 1699.9 L311 1699.5 L313.1 1699.5 L313.1 1697.8 L321.5 1697.8 L321.5 1696.7 L323.6 1696.7 L323.6 1695.7 L334.1 1695.7 L334.1 1695.3 L335.2 1693.6 L352 1693.6 L354.1 1693.6 L354.1 1692.1 L365.6 1692.1 L366.65 1692.1 L366.65 1690.75 L367.7 1690.75 L367.7 1689.4 L374.1 1689.4 L374.1 1688.3 L376.2 1688.3 L376.2 1687.3 L382.5 1687.3 L382.5 1686.9 L384.6 1686.9 L384.6 1685.2 L394 1685.2 L395.1 1683.5 L439.2 1683.5 L441.3 1683.5 L441.3 1681.4 L452.9 1681.4 L453.97 1681.4 L453.97 1680 L455.03 1680 L455.03 1678.6 L456.1 1678.6 L456.1 1677.2 L470.8 1677.2 L470.8 1676.4 L471.85 1676.4 L471.85 1675 L472.9 1675 L472.9 1673.6 L485.4 1673.6 L486.3 1673.6 L486.3 1672.03 L487.2 1672.03 L487.2 1670.47 L488.1 1670.47 L488.1 1668.9 L525.1 1668.9 L525.75 1668.9 L525.75 1667.25 L526.4 1667.25 L526.4 1665.6 L529.8 1665.6 L530.12 1665.6 L530.12 1664.17 L530.45 1664.17 L530.45 1662.75 L530.77 1662.75 L530.77 1661.33 L531.1 1661.33 L531.1 1659.9 L543.3 1659.9 L543.9 1656.8 L555.4 1656.8 L556 1653.9 L572.2 1653.9 L572.9 1650.4 L644.8 1650.4 L644.8 1646.2 L670.4 1646.2 L670.4 1642.4 L689.4 1642.4 L690.4 1633.6 L734.1 1633.6 L734.1 1628.3 L781.9 1628.3 L781.9 1622 L805 1622 L805 1615.7 L815.5 1615.7 L815.5 1608.8 L823.9 1608.8 L823.9 1601.2 L839.6 1601.2 L839.6 1593.1 L867.8 1593.1 L867.8 1583.5 L880.5 1583.5 L880.5 1574 L903.6 1574 L903.6 1563.1 L951.3 1563.1 L951.3 1546.1 L1144.8 1546.1" stroke="#13448e" stroke-width="2.3" fill="none" stroke-linejoin="round"/>
<path d="M166.6 1882 L166.6 1815.1 L167.6 1814.1 L168.4 1813.4 L168.8 1792.3 L170.5 1792.3 L170.9 1769.6 L171.4 1746.9 L176.4 1746.9 L176.4 1723.4 L186.1 1723.4 L186.5 1720 L186.5 1699.5 L188.6 1699.5 L188.6 1675.5 L197.8 1675.5 L197.8 1651.1 L388.3 1651.1 L388.3 1618.7 L428.5 1618.7 L428.5 1584 L488.4 1584 L488.4 1544.5 L523.5 1544.5 L523.5 1503.1 L559.9 1503.1 L559.9 1459.3 L1144 1459.3" stroke="#ff2200" stroke-width="2.3" fill="none" stroke-linejoin="round"/>
<path d="M181.4 1874.8 L181.4 1861.3 M181.4 1849.86 L181.4 1836.36 M181.4 1824.92 L181.4 1811.42 M181.4 1799.98 L181.4 1786.48 M181.4 1775.04 L181.4 1761.54 M181.4 1750.1 L181.4 1736.6 M181.4 1725.16 L181.4 1711.66 M181.4 1700.22 L181.4 1686.72 M181.4 1675.28 L181.4 1661.78 M181.4 1650.34 L181.4 1636.84 M181.4 1625.4 L181.4 1611.9 M181.4 1600.46 L181.4 1586.96 M181.4 1575.52 L181.4 1562.02 M181.4 1550.58 L181.4 1537.08 M181.4 1525.64 L181.4 1512.14 M181.4 1500.7 L181.4 1487.2 M181.4 1475.76 L181.4 1462.26 M181.4 1450.82 L181.4 1437.32 M181.4 1425.88 L181.4 1412.38 M181.4 1400.94 L181.4 1387.44 M181.4 1376 L181.4 1362.5 M181.4 1351.06 L181.4 1337.56 M181.4 1326.12 L181.4 1312.62 M181.4 1301.18 L181.4 1287.68 M181.4 1276.24 L181.4 1262.74 M181.4 1251.3 L181.4 1237.8 M181.4 1226.36 L181.4 1212.86 M181.4 1202.4 L181.4 1201.8" stroke="#ff0a22" stroke-width="2.8" stroke-linecap="round" fill="none"/>
<path d="M180.6 1885.4 L182.2 1885.4" stroke="#ff0a22" stroke-opacity="0.35" stroke-width="1.6" stroke-linecap="butt" fill="none"/>
<path d="M211.3 1874.8 L211.3 1861.3 M211.3 1849.86 L211.3 1836.36 M211.3 1824.92 L211.3 1811.42 M211.3 1799.98 L211.3 1786.48 M211.3 1775.04 L211.3 1761.54 M211.3 1750.1 L211.3 1736.6 M211.3 1725.16 L211.3 1711.66 M211.3 1700.22 L211.3 1686.72 M211.3 1675.28 L211.3 1661.78 M211.3 1650.34 L211.3 1636.84 M211.3 1625.4 L211.3 1611.9 M211.3 1600.46 L211.3 1586.96 M211.3 1575.52 L211.3 1562.02 M211.3 1550.58 L211.3 1537.08 M211.3 1525.64 L211.3 1512.14 M211.3 1500.7 L211.3 1487.2 M211.3 1475.76 L211.3 1462.26 M211.3 1450.82 L211.3 1437.32 M211.3 1425.88 L211.3 1412.38 M211.3 1400.94 L211.3 1387.44 M211.3 1376 L211.3 1362.5 M211.3 1351.06 L211.3 1337.56 M211.3 1326.12 L211.3 1312.62 M211.3 1301.18 L211.3 1287.68 M211.3 1276.24 L211.3 1262.74 M211.3 1251.3 L211.3 1237.8 M211.3 1226.36 L211.3 1212.86 M211.3 1202.4 L211.3 1201.8" stroke="#ff0a22" stroke-width="2.8" stroke-linecap="round" fill="none"/>
<path d="M210.5 1885.4 L212.1 1885.4" stroke="#ff0a22" stroke-opacity="0.35" stroke-width="1.6" stroke-linecap="butt" fill="none"/>
<path d="M344.9 1874.8 L344.9 1861.3 M344.9 1849.86 L344.9 1836.36 M344.9 1824.92 L344.9 1811.42 M344.9 1799.98 L344.9 1786.48 M344.9 1775.04 L344.9 1761.54 M344.9 1750.1 L344.9 1736.6 M344.9 1725.16 L344.9 1711.66 M344.9 1700.22 L344.9 1686.72 M344.9 1675.28 L344.9 1661.78 M344.9 1650.34 L344.9 1636.84 M344.9 1625.4 L344.9 1611.9 M344.9 1600.46 L344.9 1586.96 M344.9 1575.52 L344.9 1562.02 M344.9 1550.58 L344.9 1537.08 M344.9 1525.64 L344.9 1512.14 M344.9 1500.7 L344.9 1487.2 M344.9 1475.76 L344.9 1462.26 M344.9 1450.82 L344.9 1437.32 M344.9 1425.88 L344.9 1412.38 M344.9 1400.94 L344.9 1387.44 M344.9 1376 L344.9 1362.5 M344.9 1351.06 L344.9 1337.56 M344.9 1326.12 L344.9 1312.62 M344.9 1301.18 L344.9 1287.68 M344.9 1276.24 L344.9 1262.74 M344.9 1251.3 L344.9 1237.8 M344.9 1226.36 L344.9 1212.86 M344.9 1202.4 L344.9 1201.8" stroke="#ff0a22" stroke-width="2.8" stroke-linecap="round" fill="none"/>
<path d="M344.1 1885.4 L345.7 1885.4" stroke="#ff0a22" stroke-opacity="0.35" stroke-width="1.6" stroke-linecap="butt" fill="none"/>
<path d="M160 1200.3 L147 1200.3 L147 1881.8 L160 1881.8 M147 1745.8 L160 1745.8 M147 1609.4 L160 1609.4 M147 1473 L160 1473 M147 1336.7 L160 1336.7" stroke="#000" stroke-width="2.1" fill="none" stroke-linejoin="miter"/>
<path d="M166.1 1898.2 L166.1 1908.8 L1147.59 1908.8 L1147.59 1898.2 M180.97 1908.8 L180.97 1898.2 M210.71 1908.8 L210.71 1898.2 M344.55 1908.8 L344.55 1898.2 M523 1908.8 L523 1898.2 M701.46 1908.8 L701.46 1898.2 M879.91 1908.8 L879.91 1898.2 M1058.36 1908.8 L1058.36 1898.2" stroke="#000" stroke-width="2.1" fill="none"/>
<rect x="806.7" y="1191.6" width="338" height="128.6" fill="none" stroke="#333" stroke-width="1.4"/>
<path d="M836.3 1223.9 L931.1 1223.9" stroke="#2a9a00" stroke-width="2.1"/>
<path d="M836.3 1257.2 L931.1 1257.2" stroke="#ff2200" stroke-width="2.1"/>
<path d="M836.3 1290.5 L931.1 1290.5" stroke="#0a2a80" stroke-width="2.1"/>
<defs><pattern id="p0" patternUnits="userSpaceOnUse" x="50.29" y="-31.56" width="97.83" height="42.08"><g fill="#000" transform="translate(-50.29 31.56)"><rect x="50.29" y="-31.56" width="97.83" height="29.32"/><rect x="86.68" y="-2.74" width="2.66" height="7.89"/></g></pattern><pattern id="p1" patternUnits="userSpaceOnUse" x="123.41" y="-31.68" width="86.4" height="42.24"><g fill="#000" transform="translate(-123.41 31.68)"><rect x="123.41" y="-31.68" width="86.4" height="29.44"/><rect x="159.83" y="-2.74" width="2.67" height="7.92"/></g></pattern><pattern id="p2" patternUnits="userSpaceOnUse" x="261.72" y="-31.68" width="97.3" height="42.24"><g fill="#000" transform="translate(-261.72 31.68)"><rect x="261.72" y="-31.68" width="97.3" height="29.44"/><rect x="298.14" y="-2.74" width="2.67" height="7.92"/></g></pattern><pattern id="p3" patternUnits="userSpaceOnUse" x="92.14" y="-31.08" width="141.91" height="41.44"><g fill="#000" transform="translate(-92.14 31.08)"><rect x="92.14" y="-31.08" width="141.91" height="28.88"/><rect x="173.85" y="-2.7" width="2.62" height="7.77"/></g></pattern><pattern id="p4" patternUnits="userSpaceOnUse" x="237.97" y="-31.08" width="144.29" height="41.44"><g fill="#000" transform="translate(-237.97 31.08)"><rect x="237.97" y="-31.08" width="144.29" height="28.88"/><rect x="274.26" y="-2.7" width="2.62" height="7.77"/></g></pattern><pattern id="p5" patternUnits="userSpaceOnUse" x="398.95" y="-31.08" width="139.6" height="41.44"><g fill="#000" transform="translate(-398.95 31.08)"><rect x="398.95" y="-31.08" width="139.6" height="28.88"/><rect x="435.24" y="-2.7" width="2.62" height="7.77"/></g></pattern><pattern id="p6" patternUnits="userSpaceOnUse" x="591.13" y="-31.08" width="122.95" height="41.44"><g fill="#000" transform="translate(-591.13 31.08)"><rect x="591.13" y="-31.08" width="122.95" height="28.88"/><rect x="653.81" y="-2.7" width="2.62" height="7.77"/></g></pattern><pattern id="p7" patternUnits="userSpaceOnUse" x="101.97" y="-31.08" width="122.98" height="41.44"><g fill="#000" transform="translate(-101.97 31.08)"><rect x="101.97" y="-31.08" width="122.98" height="28.88"/><rect x="150.32" y="-2.7" width="2.62" height="7.77"/></g></pattern><pattern id="p8" patternUnits="userSpaceOnUse" x="407.39" y="-31.08" width="122.91" height="41.44"><g fill="#000" transform="translate(-407.39 31.08)"><rect x="407.39" y="-31.08" width="122.91" height="28.88"/><rect x="470" y="-2.7" width="2.62" height="7.77"/></g></pattern><pattern id="p9" patternUnits="userSpaceOnUse" x="718.06" y="-31.08" width="125.26" height="41.44"><g fill="#000" transform="translate(-718.06 31.08)"><rect x="718.06" y="-31.08" width="125.26" height="28.88"/><rect x="754.35" y="-2.7" width="2.62" height="7.77"/></g></pattern><pattern id="p10" patternUnits="userSpaceOnUse" x="99.21" y="-31.08" width="125.26" height="41.44"><g fill="#000" transform="translate(-99.21 31.08)"><rect x="99.21" y="-31.08" width="125.26" height="28.88"/><rect x="135.5" y="-2.7" width="2.62" height="7.77"/></g></pattern><pattern id="p11" patternUnits="userSpaceOnUse" x="246.25" y="-31.08" width="125.33" height="41.44"><g fill="#000" transform="translate(-246.25 31.08)"><rect x="246.25" y="-31.08" width="125.33" height="28.88"/><rect x="282.54" y="-2.7" width="2.62" height="7.77"/></g></pattern><pattern id="p12" patternUnits="userSpaceOnUse" x="98.9" y="-31.08" width="125.26" height="41.44"><g fill="#000" transform="translate(-98.9 31.08)"><rect x="98.9" y="-31.08" width="125.26" height="28.88"/><rect x="135.19" y="-2.7" width="2.62" height="7.77"/></g></pattern><pattern id="p13" patternUnits="userSpaceOnUse" x="248.99" y="-31.08" width="119.34" height="41.44"><g fill="#000" transform="translate(-248.99 31.08)"><rect x="248.99" y="-31.08" width="119.34" height="28.88"/><rect x="285.28" y="-2.7" width="2.62" height="7.77"/><rect x="293.69" y="-2.7" width="2.62" height="7.77"/></g></pattern><pattern id="p14" patternUnits="userSpaceOnUse" x="414.59" y="-31.08" width="108.64" height="41.44"><g fill="#000" transform="translate(-414.59 31.08)"><rect x="414.59" y="-31.08" width="108.64" height="28.88"/><rect x="462.94" y="-2.7" width="2.62" height="7.77"/></g></pattern><pattern id="p15" patternUnits="userSpaceOnUse" x="50.29" y="-31.56" width="97.83" height="42.08"><g fill="#000" transform="translate(-50.29 31.56)"><rect x="50.29" y="-31.56" width="97.83" height="29.32"/><rect x="86.68" y="-2.74" width="2.66" height="7.89"/></g></pattern><pattern id="p16" patternUnits="userSpaceOnUse" x="123.41" y="-31.68" width="86.4" height="42.24"><g fill="#000" transform="translate(-123.41 31.68)"><rect x="123.41" y="-31.68" width="86.4" height="29.44"/><rect x="159.83" y="-2.74" width="2.67" height="7.92"/></g></pattern><pattern id="p17" patternUnits="userSpaceOnUse" x="261.72" y="-31.68" width="97.3" height="42.24"><g fill="#000" transform="translate(-261.72 31.68)"><rect x="261.72" y="-31.68" width="97.3" height="29.44"/><rect x="298.14" y="-2.74" width="2.67" height="7.92"/></g></pattern><pattern id="p18" patternUnits="userSpaceOnUse" x="397.49" y="-31.08" width="144.36" height="41.44"><g fill="#000" transform="translate(-397.49 31.08)"><rect x="397.49" y="-31.08" width="144.36" height="28.88"/><rect x="433.78" y="-2.7" width="2.62" height="7.77"/></g></pattern><pattern id="p19" patternUnits="userSpaceOnUse" x="564.4" y="-31.08" width="123.04" height="41.44"><g fill="#000" transform="translate(-564.4 31.08)"><rect x="564.4" y="-31.08" width="123.04" height="28.88"/><rect x="627.08" y="-2.7" width="2.62" height="7.77"/></g></pattern><pattern id="p20" patternUnits="userSpaceOnUse" x="876.81" y="-31.08" width="125.23" height="41.44"><g fill="#000" transform="translate(-876.81 31.08)"><rect x="876.81" y="-31.08" width="125.23" height="28.88"/><rect x="913.1" y="-2.7" width="2.62" height="7.77"/></g></pattern><pattern id="p21" patternUnits="userSpaceOnUse" x="569.31" y="-31.08" width="108.64" height="41.44"><g fill="#000" transform="translate(-569.31 31.08)"><rect x="569.31" y="-31.08" width="108.64" height="28.88"/><rect x="617.65" y="-2.7" width="2.62" height="7.77"/></g></pattern><pattern id="p22" patternUnits="userSpaceOnUse" x="725.34" y="-31.08" width="110.99" height="41.44"><g fill="#000" transform="translate(-725.34 31.08)"><rect x="725.34" y="-31.08" width="110.99" height="28.88"/><rect x="761.64" y="-2.7" width="2.62" height="7.77"/></g></pattern><pattern id="p23" patternUnits="userSpaceOnUse" x="101.01" y="-31.08" width="122.98" height="41.44"><g fill="#000" transform="translate(-101.01 31.08)"><rect x="101.01" y="-31.08" width="122.98" height="28.88"/><rect x="163.72" y="-2.7" width="2.62" height="7.77"/></g></pattern><pattern id="p24" patternUnits="userSpaceOnUse" x="407.97" y="-31.08" width="126.56" height="41.44"><g fill="#000" transform="translate(-407.97 31.08)"><rect x="407.97" y="-31.08" width="126.56" height="28.88"/><rect x="484.93" y="-2.7" width="2.62" height="7.77"/></g></pattern><pattern id="p25" patternUnits="userSpaceOnUse" x="718.18" y="-31.08" width="125.33" height="41.44"><g fill="#000" transform="translate(-718.18 31.08)"><rect x="718.18" y="-31.08" width="125.33" height="28.88"/><rect x="754.47" y="-2.7" width="2.62" height="7.77"/></g></pattern><pattern id="p26" patternUnits="userSpaceOnUse" x="884.43" y="-31.08" width="108.64" height="41.44"><g fill="#000" transform="translate(-884.43 31.08)"><rect x="884.43" y="-31.08" width="108.64" height="28.88"/><rect x="932.71" y="-2.7" width="2.62" height="7.77"/></g></pattern></defs>
</svg>
</body></html>
